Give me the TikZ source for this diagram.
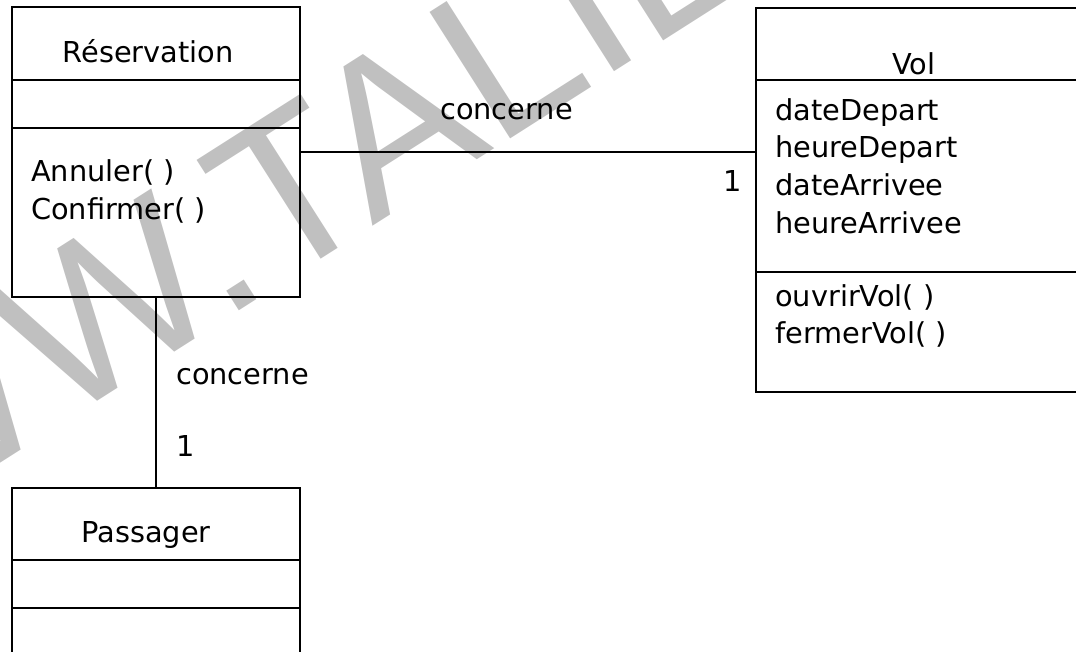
\documentclass[tikz,border=0pt]{standalone}
\usepackage{fontspec}
\setmainfont{DejaVu Sans}
\newfontfamily\wmfont{Liberation Sans}
\usetikzlibrary{fit}
\definecolor{wmgray}{RGB}{192,192,192}
\begin{document}
\begin{tikzpicture}[x=0.75pt,y=-0.75pt,
  classbox/.style={draw, line width=1.4pt, inner sep=0pt},
  wire/.style={draw, line width=1.4pt},
  txt/.style={inner sep=0pt, font=\fontsize{21.6}{28.9}\selectfont},
  lbl/.style={txt, anchor=base west},
  ttl/.style={txt, anchor=base},
  stamptext/.style={inner sep=0pt, anchor=base west, text=wmgray,
    font=\wmfont\fontsize{163.5}{163.5}\selectfont}
]
\useasboundingbox (0,0) rectangle (1076,652);
\clip (0,0) rectangle (1076,652);

% background stamp
\node[stamptext, rotate=32.5] (stamp) at (-288,647) {WWW.TALIE};

% class Réservation
\node[classbox, fit={(12,7) (300,297)}] (res) {};
\draw[wire] (12,80) -- (300,80);
\draw[wire] (12,128) -- (300,128);
\node[ttl] (resname) at (148,63) {Réservation};
\node[lbl] (resm1) at (31,182) {Annuler( )};
\node[lbl] (resm2) at (31,220) {Confirmer( )};

% class Vol
\node[classbox, fit={(756,8) (1090,392)}] (vol) {};
\draw[wire] (756,80) -- (1090,80);
\draw[wire] (756,272) -- (1090,272);
\node[ttl] (volname) at (914,75) {Vol};
\node[lbl] (vola1) at (775,121) {dateDepart};
\node[lbl] (vola2) at (775,158) {heureDepart};
\node[lbl] (vola3) at (775,196) {dateArrivee};
\node[lbl] (vola4) at (775,234) {heureArrivee};
\node[lbl] (volm1) at (775,307) {ouvrirVol( )};
\node[lbl] (volm2) at (775,344) {fermerVol( )};

% class Passager
\node[classbox, fit={(12,488) (300,700)}] (pas) {};
\draw[wire] (12,560) -- (300,560);
\draw[wire] (12,608) -- (300,608);
\node[ttl] (pasname) at (146,543) {Passager};

% associations
\draw[wire] (res.east) -- (res.east -| vol.west);
\node[lbl] (assoc1) at (440,120) {concerne};
\node[lbl] (mult1) at (723,192) {1};

\draw[wire] (res.south) -- (pas.north);
\node[lbl] (assoc2) at (176,385) {concerne};
\node[lbl] (mult2) at (176,457) {1};
\end{tikzpicture}
\end{document}
